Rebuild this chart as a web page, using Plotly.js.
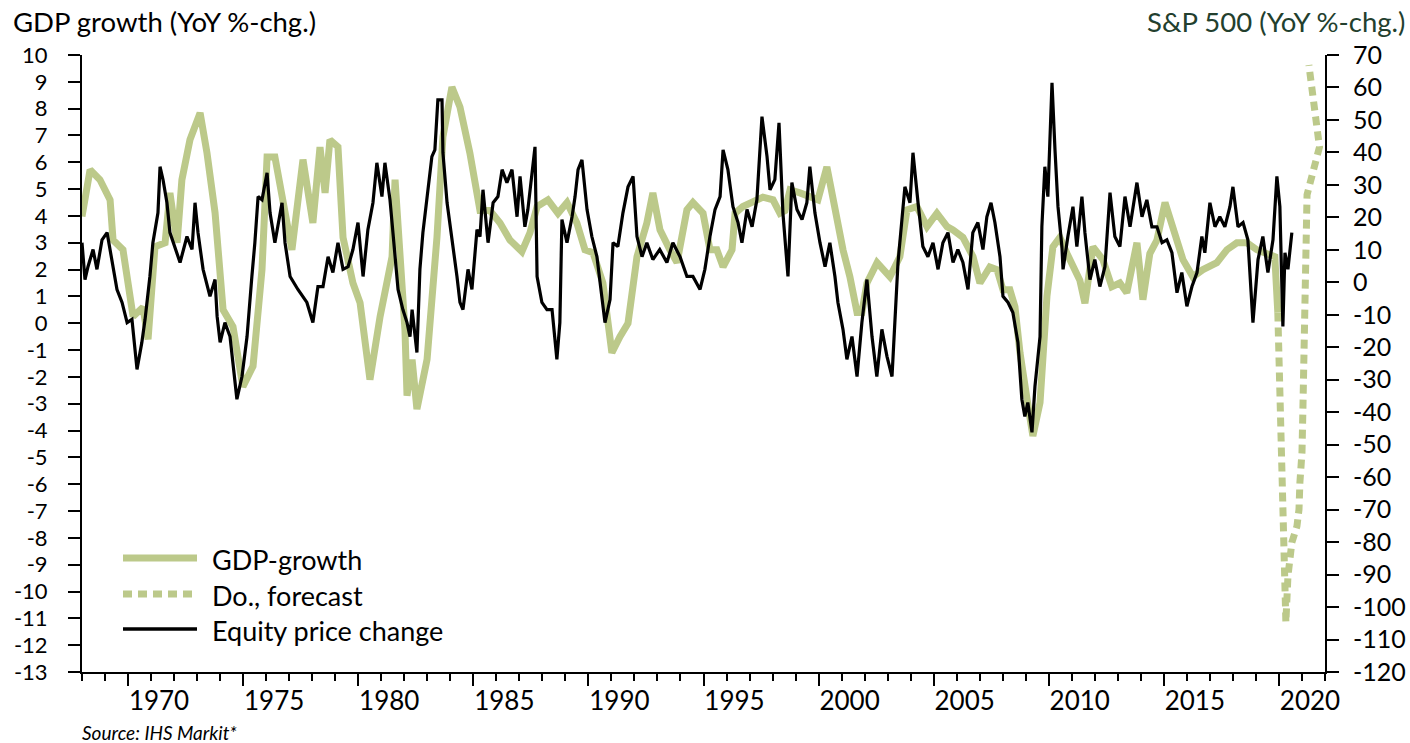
<!DOCTYPE html>
<html>
<head>
<meta charset="utf-8">
<script src="https://cdn.plot.ly/plotly-3.0.1.min.js"></script>
<style>html,body{margin:0;padding:0;background:#fff;}#chart{width:1410px;height:743px;}</style>
</head>
<body>
<div id="chart"></div>
<script>
// ---------- DATA ----------
const gdpYears = [1968.0,1968.35,1968.78,1969.22,1969.35,1969.78,1970.22,1970.65,1970.87,1971.17,1971.61,1971.82,1972.13,1972.34,1972.69,1973.13,1973.43,1973.78,1974.13,1974.56,1974.99,1975.43,1975.82,1976.04,1976.38,1976.73,1977.12,1977.6,1978.03,1978.34,1978.56,1978.77,1979.12,1979.34,1979.77,1980.08,1980.51,1980.95,1981.47,1981.6,1982.03,1982.12,1982.34,1982.55,1982.99,1983.42,1983.68,1984.07,1984.42,1984.85,1985.29,1985.72,1986.16,1986.59,1987.11,1987.46,1987.77,1988.24,1988.68,1989.07,1989.5,1989.85,1990.2,1990.63,1991.02,1991.37,1991.72,1992.11,1992.54,1992.8,1993.11,1993.54,1993.85,1994.28,1994.54,1994.98,1995.28,1995.58,1995.85,1996.24,1996.37,1996.71,1997.15,1997.58,1998.02,1998.32,1998.54,1998.76,1999.19,1999.62,1999.97,2000.36,2000.71,2001.06,2001.36,2001.67,2001.88,2002.1,2002.54,2003.1,2003.53,2003.84,2004.27,2004.71,2005.14,2005.58,2005.84,2006.27,2006.71,2007.01,2007.44,2007.75,2008.01,2008.31,2008.53,2008.75,2009.05,2009.31,2009.62,2009.83,2009.92,2010.18,2010.48,2010.79,2011.05,2011.35,2011.57,2011.92,2012.35,2012.74,2013.09,2013.39,2013.83,2014.09,2014.39,2014.7,2015.05,2015.39,2015.83,2016.26,2016.7,2017.3,2017.74,2018.17,2018.61,2019.04,2019.48,2019.82,2019.95];
const gdpGrowth = [3.98,5.72,5.35,4.6,3.1,2.74,0.25,0.6,-0.6,2.85,3.0,4.86,3.0,5.35,6.84,7.84,6.35,4.12,0.5,-0.13,-2.36,-1.6,2.0,6.2,6.2,4.7,2.74,6.1,3.74,6.57,4.86,6.84,6.57,3.2,1.5,0.76,-2.1,0.25,2.48,5.35,-0.24,-2.7,-1.35,-3.2,-1.35,3.2,6.95,8.8,8.06,6.35,4.2,4.2,3.74,3.1,2.67,3.37,4.35,4.6,4.1,4.5,3.74,2.74,2.63,1.5,-1.1,-0.5,0.0,2.48,3.74,4.86,3.48,2.74,2.26,4.23,4.5,4.1,2.74,2.74,2.1,2.74,4.1,4.35,4.5,4.7,4.6,4.1,4.2,4.97,4.86,4.7,4.6,5.83,4.1,2.74,1.73,0.4,0.4,1.5,2.26,1.73,2.48,4.23,4.35,3.6,4.1,3.6,3.48,3.2,2.48,1.5,2.1,2.0,1.25,1.25,0.62,-1.1,-2.8,-4.2,-2.95,-0.5,1.0,2.85,3.2,2.6,2.1,1.6,0.75,2.85,2.37,1.36,1.5,1.14,3.0,0.88,2.6,3.1,4.5,3.48,2.37,1.73,2.0,2.26,2.74,3.0,3.0,2.74,2.6,2.48,0.4];

const forecastYears = [2019.95,2020.13,2020.17,2020.22,2020.26,2020.3,2020.3,2020.39,2020.48,2020.56,2020.78,2020.87,2020.91,2021.0,2021.04,2021.13,2021.17,2021.22,2021.76,2021.3];
const forecastGrowth = [0.4,-4.9,-6.94,-8.06,-9.66,-10.55,-11.15,-9.43,-8.8,-8.17,-7.57,-6.94,-5.93,-4.82,-3.22,0.13,3.86,4.79,6.57,9.63];

const equityYears = [1968.0,1968.13,1968.26,1968.48,1968.65,1968.87,1969.09,1969.3,1969.52,1969.74,1969.96,1970.17,1970.39,1970.6,1970.74,1970.95,1971.08,1971.3,1971.39,1971.52,1971.69,1971.82,1972.04,1972.26,1972.56,1972.78,1972.91,1973.04,1973.26,1973.56,1973.78,1973.87,1974.0,1974.21,1974.43,1974.56,1974.73,1974.95,1975.17,1975.38,1975.51,1975.65,1975.82,1976.04,1976.17,1976.38,1976.69,1976.82,1977.04,1977.38,1977.77,1978.03,1978.25,1978.47,1978.69,1978.9,1979.12,1979.34,1979.56,1979.77,1979.99,1980.21,1980.42,1980.64,1980.81,1981.03,1981.16,1981.38,1981.51,1981.73,1981.94,1982.12,1982.25,1982.34,1982.55,1982.68,1982.81,1983.03,1983.2,1983.33,1983.46,1983.64,1983.68,1983.86,1984.07,1984.29,1984.42,1984.55,1984.77,1984.94,1985.16,1985.29,1985.42,1985.64,1985.86,1986.07,1986.25,1986.46,1986.68,1986.9,1987.03,1987.24,1987.37,1987.55,1987.68,1987.77,1987.98,1988.2,1988.42,1988.63,1988.76,1988.85,1989.07,1989.29,1989.42,1989.55,1989.72,1989.94,1990.15,1990.37,1990.59,1990.72,1990.94,1991.07,1991.28,1991.5,1991.72,1991.94,1992.11,1992.33,1992.54,1992.8,1993.1,1993.41,1993.67,1993.98,1994.28,1994.54,1994.85,1995.06,1995.28,1995.5,1995.72,1995.85,1996.06,1996.28,1996.5,1996.67,1996.89,1997.11,1997.32,1997.54,1997.76,1997.89,1998.1,1998.28,1998.45,1998.67,1998.84,1999.06,1999.28,1999.49,1999.62,1999.84,2000.06,2000.28,2000.49,2000.71,2000.84,2001.06,2001.23,2001.45,2001.67,2001.88,2002.1,2002.32,2002.53,2002.75,2002.97,2003.19,2003.32,2003.45,2003.62,2003.75,2003.97,2004.1,2004.32,2004.53,2004.75,2004.97,2005.19,2005.4,2005.62,2005.84,2006.05,2006.27,2006.49,2006.7,2006.92,2007.14,2007.31,2007.49,2007.66,2007.88,2008.01,2008.23,2008.44,2008.66,2008.83,2008.96,2009.09,2009.27,2009.4,2009.62,2009.7,2009.83,2009.96,2010.14,2010.27,2010.4,2010.57,2010.62,2010.83,2011.05,2011.22,2011.44,2011.57,2011.79,2012.0,2012.22,2012.44,2012.66,2012.87,2013.09,2013.31,2013.53,2013.83,2014.05,2014.26,2014.48,2014.7,2014.92,2015.13,2015.35,2015.57,2015.78,2016.0,2016.22,2016.44,2016.65,2016.78,2017.0,2017.22,2017.43,2017.65,2017.87,2018.0,2018.22,2018.44,2018.65,2018.87,2019.09,2019.3,2019.52,2019.74,2019.91,2020.04,2020.17,2020.26,2020.39,2020.56];
const equityChange = [12.2,0.85,4.8,10.1,4.0,13.1,15.3,6.1,-2.2,-6.2,-12.4,-11.4,-26.8,-18.5,-11.4,1.8,12.2,21.4,35.6,31.6,24.5,15.3,11.0,6.1,14.1,10.1,24.5,15.3,4.0,-4.3,0.85,-10.5,-18.5,-12.4,-16.7,-24.7,-36.0,-29.0,-16.7,1.8,12.2,26.4,25.4,33.7,21.4,12.2,24.5,12.2,1.8,-2.2,-6.2,-12.4,-1.3,-1.3,7.9,3.0,12.2,4.0,4.8,10.1,18.4,1.8,16.2,24.5,36.8,26.4,36.8,25.4,15.3,-2.2,-8.4,-12.4,-16.7,-8.4,-21.6,4.0,15.3,29.4,38.7,40.8,56.2,56.2,39.9,24.5,14.1,1.8,-6.2,-8.4,4.0,-2.2,16.2,14.1,28.5,12.2,24.5,26.4,34.7,30.7,34.7,20.2,32.6,17.1,22.4,34.7,41.7,1.8,-6.2,-8.4,-8.4,-23.7,-12.4,19.3,12.2,20.2,26.4,34.7,37.7,22.4,14.1,7.9,-4.3,-12.4,-5.3,12.2,11.0,21.4,29.4,32.6,14.1,7.9,12.2,7.0,10.1,6.1,12.2,7.9,1.8,1.8,-2.2,4.0,14.1,22.4,26.4,40.8,34.7,23.3,18.4,12.2,22.4,17.1,25.4,51.0,38.7,28.5,31.6,49.1,21.4,1.8,30.7,22.4,19.3,24.5,35.6,21.4,12.2,4.8,12.2,1.8,-6.2,-14.5,-23.7,-16.7,-29.0,-12.4,0.85,-16.7,-29.0,-14.5,-22.8,-29.0,-11.4,6.1,19.3,29.4,24.5,39.9,24.5,11.0,7.9,12.2,4.0,12.2,15.3,6.1,10.1,6.1,-2.2,15.3,18.4,10.1,20.2,24.5,18.4,7.9,-4.3,-6.2,-9.3,-18.5,-36.0,-41.3,-37.0,-46.2,-32.0,-16.7,17.1,35.6,26.4,61.4,40.8,23.3,11.0,4.0,14.1,23.3,11.0,26.4,15.3,0.85,7.0,-1.3,4.8,27.6,14.1,11.0,26.4,17.1,30.7,20.2,25.4,17.1,17.1,12.2,13.1,9.1,-3.2,3.0,-7.4,-1.3,3.0,14.1,9.1,24.5,17.1,20.2,17.1,23.3,29.4,17.1,18.4,13.1,-12.4,7.0,14.1,3.0,13.1,32.6,23.3,-13.6,9.1,4.0,15.3];

const xTickYears = [1970,1975,1980,1985,1990,1995,2000,2005,2010,2015,2020];
const xTickLabels = ['1970','1975','1980','1985','1990','1995','2000','2005','2010','2015','2020'];
const leftTicks = [-13,-12,-11,-10,-9,-8,-7,-6,-5,-4,-3,-2,-1,0,1,2,3,4,5,6,7,8,9,10];
const leftTickLabels = ['-13','-12','-11','-10','-9','-8','-7','-6','-5','-4','-3','-2','-1','0','1','2','3','4','5','6','7','8','9','10'];
const rightTicks = [-120,-110,-100,-90,-80,-70,-60,-50,-40,-30,-20,-10,0,10,20,30,40,50,60,70];
const rightTickLabels = ['-120','-110','-100','-90','-80','-70','-60','-50','-40','-30','-20','-10','0','10','20','30','40','50','60','70'];

const seriesNames = ['GDP-growth','Do., forecast','Equity price change'];
const leftTitle = 'GDP growth (YoY %-chg.)';
const rightTitle = 'S&P 500 (YoY %-chg.)';
const sourceNote = 'Source: IHS Markit*';

// ---------- STYLE ----------
const W = 1410, H = 743;
const M = {l: 82, r: 85, t: 55, b: 71};
const plotW = W - M.l - M.r, plotH = H - M.t - M.b;
const px2x = p => (p - M.l) / plotW;
const px2y = p => (H - M.b - p) / plotH;
const GREEN = '#bcc98a';
const FONT = 'Lato, "Open Sans", sans-serif';
const DASH = '9px,6px';

const traces = [
  {x: gdpYears, y: gdpGrowth, type: 'scatter', mode: 'lines', name: seriesNames[0],
   line: {color: GREEN, width: 7}, yaxis: 'y', showlegend: false},
  {x: forecastYears, y: forecastGrowth, type: 'scatter', mode: 'lines', name: seriesNames[1],
   line: {color: GREEN, width: 7, dash: DASH}, yaxis: 'y', showlegend: false},
  {x: equityYears, y: equityChange, type: 'scatter', mode: 'lines', name: seriesNames[2],
   line: {color: '#000000', width: 3.2}, yaxis: 'y2', showlegend: false}
];

const legendRows = [558, 594, 629];
const legendStyles = [
  {color: GREEN, width: 7, dash: 'solid'},
  {color: GREEN, width: 7, dash: DASH},
  {color: '#000000', width: 3.5, dash: 'solid'}
];
const shapes = legendRows.map((py, i) => ({
  type: 'line', xref: 'paper', yref: 'paper',
  x0: px2x(123), x1: px2x(197), y0: px2y(py), y1: px2y(py),
  line: legendStyles[i]
}));
const annotations = legendRows.map((py, i) => ({
  xref: 'paper', yref: 'paper', x: px2x(210), y: px2y(py + 1),
  xanchor: 'left', yanchor: 'middle', showarrow: false,
  text: seriesNames[i], font: {family: FONT, size: 27, color: '#000'}
}));
annotations.push(
  {xref: 'paper', yref: 'paper', x: px2x(11), y: px2y(21), xanchor: 'left', yanchor: 'middle',
   showarrow: false, text: leftTitle, font: {family: FONT, size: 27.5, color: '#000'}},
  {xref: 'paper', yref: 'paper', x: px2x(1407), y: px2y(21), xanchor: 'right', yanchor: 'middle',
   showarrow: false, text: rightTitle, font: {family: FONT, size: 27.5, color: '#233f2e'}},
  {xref: 'paper', yref: 'paper', x: px2x(80), y: px2y(732), xanchor: 'left', yanchor: 'middle',
   showarrow: false, text: '<i>' + sourceNote + '</i>', font: {family: FONT, size: 19, color: '#000'}}
);

const axisCommon = {
  showgrid: false, zeroline: false, showline: true, linecolor: '#000', linewidth: 2,
  ticks: 'outside', tickcolor: '#000', tickwidth: 2, ticklen: 12,
  tickfont: {family: FONT, size: 22, color: '#000'}, fixedrange: true
};

const layout = {
  width: W, height: H, margin: M, paper_bgcolor: '#fff', plot_bgcolor: '#fff',
  showlegend: false,
  xaxis: Object.assign({}, axisCommon, {
    range: [1968, 2022], tickmode: 'array', tickvals: xTickYears, ticktext: xTickLabels,
    tickfont: {family: FONT, size: 26, color: '#000'},
    ticklabelshift: 31, ticklabelstandoff: -7,
    minor: {tick0: 1968, dtick: 1, ticks: 'outside', ticklen: 7, tickwidth: 2, tickcolor: '#000'}
  }),
  yaxis: Object.assign({}, axisCommon, {
    range: [-13, 10], tickmode: 'array', tickvals: leftTicks, ticktext: leftTickLabels,
    ticklabelstandoff: 16
  }),
  yaxis2: Object.assign({}, axisCommon, {
    range: [-120, 70], tickmode: 'array', tickvals: rightTicks, ticktext: rightTickLabels,
    tickfont: {family: FONT, size: 25, color: '#000'},
    overlaying: 'y', side: 'right', ticklabelstandoff: 9
  }),
  shapes: shapes,
  annotations: annotations
};

Plotly.newPlot('chart', traces, layout, {staticPlot: true, displayModeBar: false});
</script>
</body>
</html>
